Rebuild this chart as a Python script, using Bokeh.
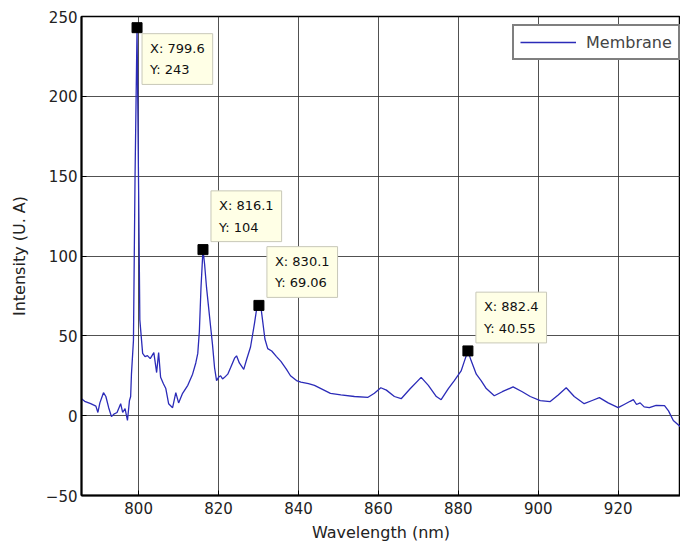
from bokeh.plotting import figure
from bokeh.models import Label, FixedTicker, Range1d, Legend, LegendItem
from bokeh.embed import file_html
from bokeh.resources import INLINE

# Spectrum (wavelength in nm, intensity in U.A)
wavelength = [785.7, 786.5, 788.0, 789.3, 789.8, 790.3, 791.2, 791.8, 792.5, 793.2,
              793.8, 794.6, 795.5, 796.0, 796.6, 797.2, 797.7, 798.0, 798.2, 798.7,
              799.1, 799.6, 800.0, 800.3, 801.0, 801.6, 802.2, 802.9, 803.8, 804.5,
              805.0, 805.5, 806.2, 806.8, 807.5, 808.5, 809.3, 810.0, 811.0, 812.3,
              813.5, 814.3, 814.8, 815.2, 815.6, 816.1, 816.5, 817.0, 817.5, 818.0,
              818.5, 819.0, 819.5, 820.0, 820.5, 821.0, 821.5, 822.3, 823.0, 824.0,
              824.5, 825.2, 826.3, 827.0, 828.0, 829.0, 829.6, 830.1, 830.6, 831.0,
              831.6, 832.3, 833.3, 834.5, 835.6, 837.0, 838.0, 839.5, 840.6, 842.5,
              844.0, 846.0, 848.0, 850.6, 854.0, 857.4, 859.0, 860.6, 862.0, 864.0,
              865.7, 868.0, 870.7, 872.5, 874.5, 875.7, 877.5, 879.0, 880.7, 881.5,
              882.4, 883.2, 884.5, 885.7, 887.0, 889.0, 891.0, 893.7, 896.0, 898.0,
              900.5, 903.0, 905.0, 907.0, 909.0, 911.5, 913.5, 915.3, 917.5, 920.0,
              921.5, 923.0, 923.8, 924.6, 925.5, 926.5, 927.8, 929.5, 931.6, 932.6,
              933.8, 935.8]
intensity = [10.6, 9.0, 7.5, 6.0, 2.0, 8.0, 14.4, 12.0, 5.0, -0.6,
             1.0, 2.0, 7.5, 2.0, 4.4, -3.0, 9.4, 12.0, 26.0, 47.0,
             150.0, 243.0, 140.0, 60.0, 39.0, 37.0, 37.6, 35.7, 39.5, 27.0,
             39.5, 24.0, 20.0, 17.0, 7.5, 5.0, 14.4, 8.0, 14.0, 19.0,
             26.0, 33.0, 39.0, 53.0, 80.0, 104.0, 95.0, 80.0, 68.0, 56.0,
             44.0, 30.0, 22.0, 24.0, 25.0, 23.0, 24.0, 26.0, 30.0, 36.0,
             37.5, 33.0, 29.0, 35.0, 43.0, 58.0, 68.0, 69.06, 68.0, 60.0,
             48.0, 42.0, 40.5, 37.0, 34.0, 29.0, 25.0, 22.0, 21.0, 20.0,
             19.0, 16.5, 14.0, 13.0, 12.0, 11.5, 14.0, 17.5, 16.0, 12.0,
             10.6, 17.0, 24.0, 19.0, 12.0, 10.0, 17.0, 22.0, 28.0, 34.0,
             40.55, 34.5, 26.0, 22.0, 17.0, 12.5, 15.0, 18.0, 15.0, 12.0,
             9.4, 8.8, 13.0, 17.5, 12.0, 7.5, 9.5, 11.3, 8.0, 5.0,
             7.0, 9.0, 10.0, 7.0, 8.0, 5.5, 5.0, 6.5, 6.3, 3.0,
             -3.0, -7.5]

# Data tips
tip_x = [799.6, 816.1, 830.1, 882.4]
tip_y = [243, 104, 69.06, 40.55]
tip_text = ["X: 799.6\nY: 243", "X: 816.1\nY: 104", "X: 830.1\nY: 69.06", "X: 882.4\nY: 40.55"]

x_ticks = [800, 820, 840, 860, 880, 900, 920]
y_ticks = [-50, 0, 50, 100, 150, 200, 250]
series_name = "Membrane"

FONT = "DejaVu Sans"

p = figure(width=680, height=547, output_backend="svg", toolbar_location=None,
           x_range=Range1d(785.7, 935.6), y_range=Range1d(-50, 250),
           min_border_left=81, min_border_top=16, min_border_right=0, min_border_bottom=52)

line = p.line(wavelength, intensity, line_color="#2b2bb8", line_width=1.3)
p.scatter(tip_x, tip_y, marker="square", size=10, color="black")

p.xaxis.ticker = FixedTicker(ticks=x_ticks)
p.yaxis.ticker = FixedTicker(ticks=y_ticks)
p.xaxis.minor_tick_line_color = None
p.yaxis.minor_tick_line_color = None
for ax in (p.xaxis, p.yaxis):
    ax.major_tick_in = 5
    ax.major_tick_out = 0
    ax.axis_line_width = 2
    ax.axis_line_color = "black"
    ax.major_tick_line_color = "black"
    ax.major_label_text_font = FONT
    ax.major_label_text_font_size = "15px"
    ax.major_label_text_color = "#222222"
    ax.axis_label_text_font = FONT
    ax.axis_label_text_font_size = "16px"
    ax.axis_label_text_font_style = "normal"
    ax.axis_label_text_color = "#222222"
p.xaxis.axis_label = "Wavelength (nm)"
p.yaxis.axis_label = "Intensity (U. A)"
p.xaxis.major_label_standoff = 6
p.xaxis.axis_label_standoff = 6
p.yaxis.major_label_standoff = 4
p.yaxis.axis_label_standoff = 14

p.grid.grid_line_color = "#333333"
p.grid.grid_line_alpha = 0.85
p.grid.grid_line_width = 1
p.outline_line_color = "black"
p.outline_line_width = 1.5

for i in range(len(tip_x)):
    below = i == 0
    lab = Label(x=tip_x[i], y=tip_y[i], text=tip_text[i],
                x_offset=5 if below else 8, y_offset=-6 if below else 8,
                text_align="left", text_baseline="top" if below else "bottom",
                text_font=FONT, text_font_size="13px", text_color="#111111",
                text_line_height=1.45,
                background_fill_color="#ffffe6", background_fill_alpha=1.0,
                border_line_color="#c8c8b8", border_line_width=1, padding=(8, 7))
    p.add_layout(lab)

legend = Legend(items=[LegendItem(label=series_name, renderers=[line])],
                location=(431, 435))
legend.border_line_color = "black"
legend.border_line_width = 2
legend.background_fill_color = "white"
legend.background_fill_alpha = 1.0
legend.label_text_font = FONT
legend.label_text_font_size = "16px"
legend.glyph_width = 56
legend.label_standoff = 10
legend.padding = 6
legend.margin = 0
legend.spacing = 0
p.add_layout(legend)

open("out.html", "w").write(file_html(p, INLINE))
